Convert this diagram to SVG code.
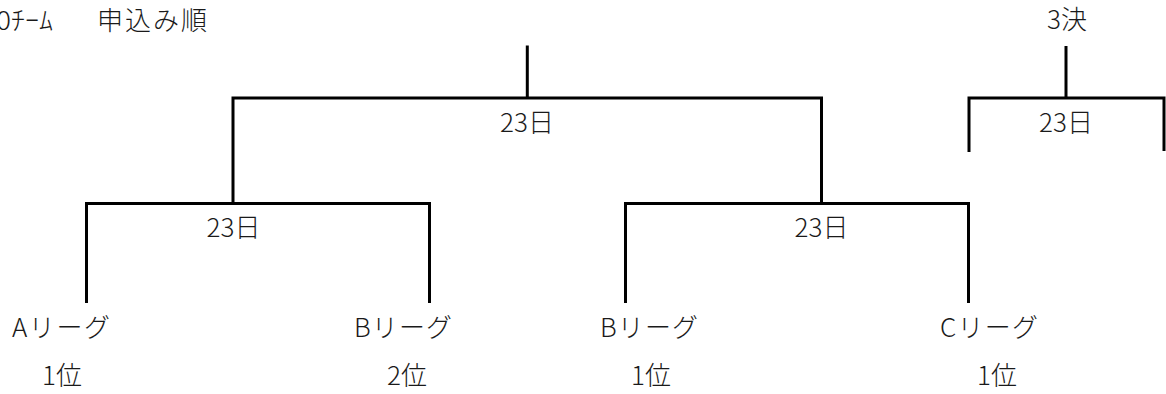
<svg xmlns="http://www.w3.org/2000/svg" width="1166" height="394" viewBox="0 0 1166 394">
<style>
text{font-family:"Noto Sans CJK JP","Noto Sans",sans-serif;font-size:26px;font-weight:300;fill:#1a1a1a}
.c{text-anchor:middle}
#connectors path{fill:none;stroke:#000;stroke-width:3;stroke-linecap:butt}
</style>
<rect width="1166" height="394" fill="#fff"/>
<g id="connectors">
<path d="M527.3,45.5 V98"/>
<path d="M233,203 V98 H821.5 V203"/>
<path d="M86.5,303 V203.5 H429.5 V303"/>
<path d="M625.5,303 V203.5 H968.5 V303"/>
<path d="M1066,46 V98"/>
<path d="M969,152 V98 H1164 V151"/>
</g>
<g id="header">
<text x="-4" y="30" textLength="57" lengthAdjust="spacingAndGlyphs">0ﾁｰﾑ</text>
<text x="97" y="30" textLength="110" lengthAdjust="spacing">申込み順</text>
</g>
<g id="third"><text class="c" x="1067" y="29">3決</text></g>
<g id="final"><text class="c" x="527" y="132">23日</text></g>
<g id="third-date"><text class="c" x="1066" y="132">23日</text></g>
<g id="semi1"><text class="c" x="233.5" y="237">23日</text></g>
<g id="semi2"><text class="c" x="821.5" y="237">23日</text></g>
<g id="team1"><text x="12" y="337" textLength="98">Aリーグ</text><text class="c" x="62" y="385">1位</text></g>
<g id="team2"><text x="354" y="337" textLength="98">Bリーグ</text><text class="c" x="407" y="385">2位</text></g>
<g id="team3"><text x="600" y="337" textLength="98">Bリーグ</text><text class="c" x="651" y="385">1位</text></g>
<g id="team4"><text x="940" y="337" textLength="98">Cリーグ</text><text class="c" x="997" y="385">1位</text></g>
</svg>
